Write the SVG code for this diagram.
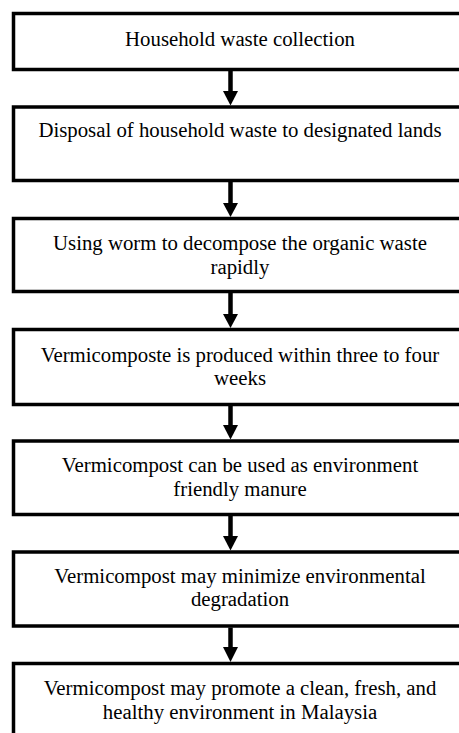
<svg xmlns="http://www.w3.org/2000/svg" width="459" height="733" viewBox="0 0 459 733">
<style>
.box{fill:#fff;stroke:#000;stroke-width:3.5}
.t{font-family:"Liberation Serif","Times New Roman",serif;font-size:20.8px;fill:#000;text-anchor:middle}
.c{stroke:#000;stroke-width:4.5;fill:none}
.h{fill:#000}
</style>
<rect width="459" height="733" fill="#fff"/>
<g id="n1"><rect class="box" x="13.5" y="13.5" width="453" height="56"/><text class="t" x="240" y="46">Household waste collection</text></g>
<g id="n2"><rect class="box" x="13.5" y="107" width="453" height="73.5"/><text class="t" x="240" y="137">Disposal of household waste to designated lands</text></g>
<g id="n3"><rect class="box" x="13.5" y="218.5" width="453" height="73"/><text class="t" x="240" y="250">Using worm to decompose the organic waste</text><text class="t" x="240" y="274">rapidly</text></g>
<g id="n4"><rect class="box" x="13.5" y="329.5" width="453" height="75"/><text class="t" x="240" y="361.5">Vermicomposte is produced within three to four</text><text class="t" x="240" y="385">weeks</text></g>
<g id="n5"><rect class="box" x="13.5" y="441" width="453" height="73.5"/><text class="t" x="240" y="472">Vermicompost can be used as environment</text><text class="t" x="240" y="495.5">friendly manure</text></g>
<g id="n6"><rect class="box" x="13.5" y="552" width="453" height="74"/><text class="t" x="240" y="582.5">Vermicompost may minimize environmental</text><text class="t" x="240" y="606">degradation</text></g>
<g id="n7"><rect class="box" x="13.5" y="663.5" width="453" height="90"/><text class="t" x="240" y="695">Vermicompost may promote a clean, fresh, and</text><text class="t" x="240" y="718.5">healthy environment in Malaysia</text></g>
<g id="connectors">
<line class="c" x1="230.5" y1="71" x2="230.5" y2="92"/><polygon class="h" points="223,91 238,91 230.5,105.5"/>
<line class="c" x1="230.5" y1="182" x2="230.5" y2="204"/><polygon class="h" points="223,203 238,203 230.5,217"/>
<line class="c" x1="230.5" y1="293" x2="230.5" y2="315"/><polygon class="h" points="223,314 238,314 230.5,328"/>
<line class="c" x1="230.5" y1="406" x2="230.5" y2="426"/><polygon class="h" points="223,425 238,425 230.5,439.5"/>
<line class="c" x1="230.5" y1="516" x2="230.5" y2="537"/><polygon class="h" points="223,536 238,536 230.5,550.5"/>
<line class="c" x1="230.5" y1="627.5" x2="230.5" y2="648"/><polygon class="h" points="223,647 238,647 230.5,662"/>
</g>
</svg>
